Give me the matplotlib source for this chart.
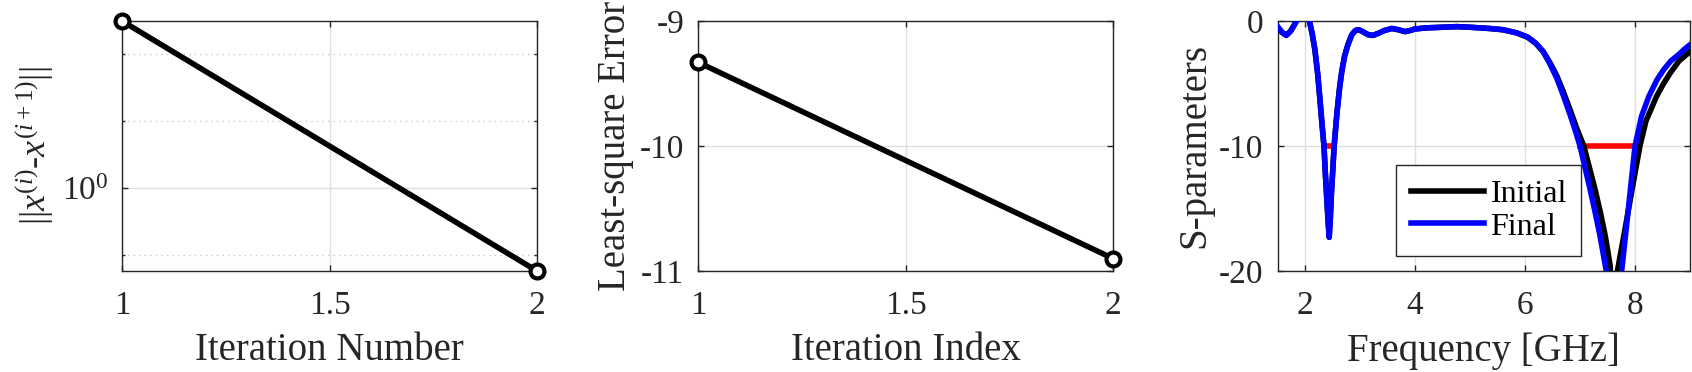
import matplotlib
matplotlib.use('Agg')
import matplotlib.pyplot as plt
from matplotlib.ticker import FixedLocator, NullFormatter

# panel 1: step norm per iteration (log axis)
iter_num = [1, 2]
step_norm = [1.332, 0.867]
norm_minor = [0.8913, 1.122, 1.259]

# panel 2: least-square error per iteration
iter_idx = [1, 2]
ls_error = [-9.33, -10.90]

# panel 3: S-parameters, initial and final design
freq_final = [1.50, 1.58, 1.66, 1.74, 1.82, 1.88, 1.95, 2.02, 2.08, 2.13, 2.18, 2.23,
              2.27, 2.31, 2.345, 2.37, 2.40, 2.42, 2.44, 2.46, 2.48, 2.50, 2.53, 2.58,
              2.63, 2.67, 2.72, 2.78, 2.85, 2.92, 2.98, 3.05, 3.15, 3.24, 3.35, 3.45,
              3.58, 3.70, 3.82, 3.92, 4.00, 4.20, 4.50, 4.76, 5.00, 5.36, 5.60, 5.85,
              6.05, 6.20, 6.33, 6.45, 6.58, 6.70, 6.82, 6.91, 7.00, 7.09, 7.18, 7.27,
              7.36, 7.47, 7.55, 7.62, 7.69, 7.76, 7.88, 8.00, 8.12, 8.25, 8.40, 8.52,
              8.65, 8.79, 8.90, 9.00]
s_final = [-0.45, -0.90, -1.15, -0.80, -0.20, 0.30, 0.70, 0.40, 0.00, -1.0, -2.3, -4.2,
           -6.2, -8.3, -10.0, -12.2, -14.5, -16.0, -17.3, -15.8, -13.8, -12.3, -10.0, -7.4,
           -5.3, -4.0, -2.8, -1.9, -1.1, -0.75, -0.70, -0.85, -1.10, -1.15, -0.95, -0.75,
           -0.60, -0.70, -0.85, -0.75, -0.64, -0.55, -0.50, -0.45, -0.50, -0.60, -0.70, -0.95,
           -1.30, -1.80, -2.45, -3.40, -4.60, -6.00, -7.50, -8.70, -10.0, -11.7, -13.4, -15.2,
           -17.1, -19.8, -21.8, -25.0, -22.0, -19.9, -15.0, -10.0, -7.6, -6.05, -4.7, -3.9,
           -3.2, -2.7, -2.25, -1.9]

freq_init = [1.50, 1.58, 1.66, 1.74, 1.82, 1.88, 1.95, 2.02, 2.08, 2.13, 2.18, 2.23,
             2.27, 2.31, 2.345, 2.37, 2.40, 2.42, 2.44, 2.46, 2.48, 2.50, 2.53, 2.58,
             2.63, 2.67, 2.72, 2.78, 2.85, 2.92, 2.98, 3.05, 3.15, 3.24, 3.35, 3.45,
             3.58, 3.70, 3.82, 3.92, 4.00, 4.20, 4.50, 4.76, 5.00, 5.36, 5.60, 5.85,
             6.05, 6.20, 6.33, 6.45, 6.58, 6.70, 6.82, 6.95, 7.07, 7.17, 7.27, 7.37,
             7.46, 7.55, 7.62, 7.68, 7.80, 7.95, 8.09, 8.20, 8.39, 8.52, 8.65, 8.80, 9.00]
s_init = [-0.45, -0.90, -1.15, -0.80, -0.20, 0.30, 0.70, 0.40, 0.00, -1.0, -2.3, -4.2,
          -6.2, -8.3, -10.0, -12.2, -14.5, -16.0, -17.3, -15.8, -13.8, -12.3, -10.0, -7.4,
          -5.3, -4.0, -2.8, -1.9, -1.1, -0.75, -0.70, -0.85, -1.10, -1.15, -0.95, -0.75,
          -0.60, -0.70, -0.85, -0.75, -0.64, -0.55, -0.50, -0.45, -0.50, -0.60, -0.70, -0.95,
          -1.30, -1.80, -2.45, -3.30, -4.40, -5.70, -7.10, -8.70, -10.0, -11.7, -13.4, -15.3,
          -17.2, -19.6, -27.0, -20.0, -17.1, -13.4, -10.0, -8.0, -6.05, -5.0, -4.1, -3.2, -2.45]

# -10 dB specification bands
spec_bands = [(2.4, 2.5), (7.0, 8.0)]
spec_level = -10

plt.rcParams['font.family'] = ['Liberation Serif']
plt.rcParams['mathtext.fontset'] = 'custom'
plt.rcParams['mathtext.rm'] = 'Liberation Serif'
plt.rcParams['mathtext.it'] = 'Liberation Serif:italic'
plt.rcParams['axes.unicode_minus'] = False

edge = '#262626'
gridc = '#dedede'
tick_fs = 24
label_fs = 28

fig = plt.figure(figsize=(16.92, 3.72), dpi=100)
ax1 = fig.add_axes([122 / 1692, 101 / 372, 415 / 1692, 250 / 372])
ax2 = fig.add_axes([698 / 1692, 101 / 372, 415 / 1692, 250 / 372])
ax3 = fig.add_axes([1277.5 / 1692, 101 / 372, 412.5 / 1692, 250 / 372])


def style_axes(ax):
    for s in ax.spines.values():
        s.set_color(edge)
        s.set_linewidth(1.0)
    ax.tick_params(which='both', direction='in', top=True, right=True,
                   colors=edge, labelsize=tick_fs, width=1.0)
    ax.tick_params(which='major', length=4.5)
    ax.tick_params(which='minor', length=2.5)
    ax.tick_params(axis='x', which='major', pad=14)
    ax.tick_params(axis='y', which='major', pad=10)
    ax.set_axisbelow(True)
    ax.grid(True, which='major', color=gridc, lw=1.0)


# Panel 1
ax1.set_yscale('log')
ax1.plot(iter_num, step_norm, color='black', lw=4, marker='o', ms=10,
         mew=3, mfc='white', clip_on=False, zorder=5)
ax1.set_xlim(1, 2)
ax1.set_ylim(step_norm[1], step_norm[0])
ax1.set_xticks([1, 1.5, 2])
ax1.set_xticklabels(['1', '1.5', '2'])
ax1.yaxis.set_major_locator(FixedLocator([1.0]))
ax1.set_yticklabels([r'$10^{0}$'])
ax1.yaxis.set_minor_locator(FixedLocator(norm_minor))
ax1.yaxis.set_minor_formatter(NullFormatter())
style_axes(ax1)
ax1.grid(True, which='minor', axis='y', color='#c8c8c8', lw=1.0, ls=(0, (1, 3)))
ax1.set_xlabel('Iteration Number', fontsize=label_fs, color=edge, labelpad=8)
ax1.set_ylabel(r'$||x^{(i)}$-$x^{(i+1)}||$', fontsize=26, color=edge)

# Panel 2
ax2.plot(iter_idx, ls_error, color='black', lw=4, marker='o', ms=10,
         mew=3, mfc='white', clip_on=False, zorder=5)
ax2.set_xlim(1, 2)
ax2.set_ylim(-11, -9)
ax2.set_xticks([1, 1.5, 2])
ax2.set_xticklabels(['1', '1.5', '2'])
ax2.set_yticks([-11, -10, -9])
ax2.set_yticklabels(['-11', '-10', '-9'])
style_axes(ax2)
ax2.set_xlabel('Iteration Index', fontsize=label_fs, color=edge, labelpad=8)
ax2.set_ylabel('Least-square Error', fontsize=label_fs, color=edge)

# Panel 3
for f0, f1 in spec_bands:
    ax3.plot([f0, f1], [spec_level, spec_level], color='red', lw=4, zorder=2)
ax3.plot(freq_init, s_init, color='black', lw=4, label='Initial', zorder=3)
ax3.plot(freq_final, s_final, color='blue', lw=4, label='Final', zorder=4)
ax3.set_xlim(1.5, 9)
ax3.set_ylim(-20, 0)
ax3.set_xticks([2, 4, 6, 8])
ax3.set_yticks([-20, -10, 0])
ax3.set_yticklabels(['-20', '-10', '0'])
style_axes(ax3)
ax3.set_xlabel('Frequency [GHz]', fontsize=label_fs, color=edge, labelpad=8)
ax3.set_ylabel('S-parameters', fontsize=label_fs, color=edge)
leg = ax3.legend(loc='lower left', bbox_to_anchor=(0.288, 0.06), fontsize=23,
                 handlelength=2.3, handletextpad=0.2, labelspacing=0.1,
                 borderaxespad=0, borderpad=0.45, fancybox=False, framealpha=1)
leg.get_frame().set_edgecolor(edge)
leg.get_frame().set_linewidth(1.0)

fig.savefig('out.png', dpi=100)
